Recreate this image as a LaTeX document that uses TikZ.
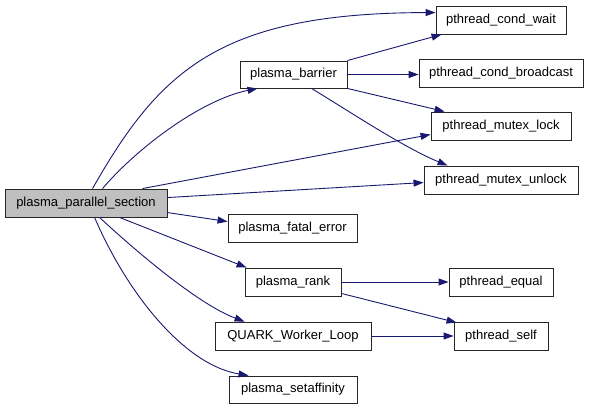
\documentclass[tikz,border=0pt]{standalone}
\usepackage{fontspec}
\setmainfont{Liberation Sans}
\usetikzlibrary{arrows.meta,calc}
\definecolor{edgecol}{HTML}{191970}
\definecolor{boxgray}{HTML}{BFBFBF}
\begin{document}
\begin{tikzpicture}[x=1pt,y=-1pt,
  fn/.style={draw=black!85,line width=0.9pt,fill=white,inner sep=0pt,minimum height=28pt,
    font=\fontsize{13}{15}\selectfont},
  call/.style={draw=edgecol,line width=0.9pt,-{Triangle[length=10pt,width=7pt]}}]
\useasboundingbox (0,0) rectangle (589,409);
% nodes
\node[fn,fill=boxgray,minimum width=162pt] (pps) at (86,203) {plasma\_parallel\_section};
\node[fn,minimum width=107pt,minimum height=27pt] (bar) at (293.5,74.5) {plasma\_barrier};
\node[fn,minimum width=129pt] (fe) at (292.5,228) {plasma\_fatal\_error};
\node[fn,minimum width=96pt] (rank) at (293,282) {plasma\_rank};
\node[fn,minimum width=156pt] (quark) at (293,336) {QUARK\_Worker\_Loop};
\node[fn,minimum width=128pt,minimum height=27pt] (sa) at (293,389.5) {plasma\_setaffinity};
\node[fn,minimum width=130pt] (cw) at (501,20) {pthread\_cond\_wait};
\node[fn,minimum width=164pt] (cb) at (501,73) {pthread\_cond\_broadcast};
\node[fn,minimum width=140pt] (ml) at (501,126) {pthread\_mutex\_lock};
\node[fn,minimum width=154pt] (mu) at (501,180) {pthread\_mutex\_unlock};
\node[fn,minimum width=104pt] (eq) at (501,282) {pthread\_equal};
\node[fn,minimum width=94pt] (self) at (501,336) {pthread\_self};
% edges from plasma_parallel_section
\draw[call] ($(pps.north west)+(88,0)$) .. controls (160,70) and (220,13) .. ($(cw.north west)+(0,7)$);
\draw[call] ($(pps.north west)+(98,0)$) .. controls (135,150) and (200,100) .. ($(bar.south west)+(18,0)$);
\draw[call] ($(pps.north west)+(138,0)$) -- ($(ml.north west)+(0,23)$);
\draw[call] ($(pps.north east)+(0,9)$) -- ($(mu.north west)+(0,17)$);
\draw[call] ($(pps.north east)+(0,24)$) -- ($(fe.north west)+(0,8)$);
\draw[call] ($(pps.south west)+(115,0)$) -- ($(rank.north west)+(2,0)$);
\draw[call] ($(pps.south west)+(95,0)$) .. controls (140,255) and (200,305) .. ($(quark.north west)+(30,0)$);
\draw[call] ($(pps.south west)+(90,0)$) .. controls (128,295) and (185,365) .. ($(sa.north west)+(20,0)$);
% edges from plasma_barrier
\draw[call] (bar.north east) -- ($(cw.south west)+(6,0)$);
\draw[call] (bar.east) -- (bar.east -| cb.west);
\draw[call] (bar.south east) -- ($(ml.north west)+(14,0)$);
\draw[call] ($(bar.south west)+(72,0)$) .. controls (355,115) and (405,148) .. ($(mu.north west)+(24,0)$);
% edges from plasma_rank and QUARK_Worker_Loop
\draw[call] (rank.east) -- (rank.east -| eq.west);
\draw[call] ($(rank.south east)+(0,-3)$) -- ($(self.north west)+(3,1)$);
\draw[call] (quark.east) -- (quark.east -| self.west);
\end{tikzpicture}
\end{document}
